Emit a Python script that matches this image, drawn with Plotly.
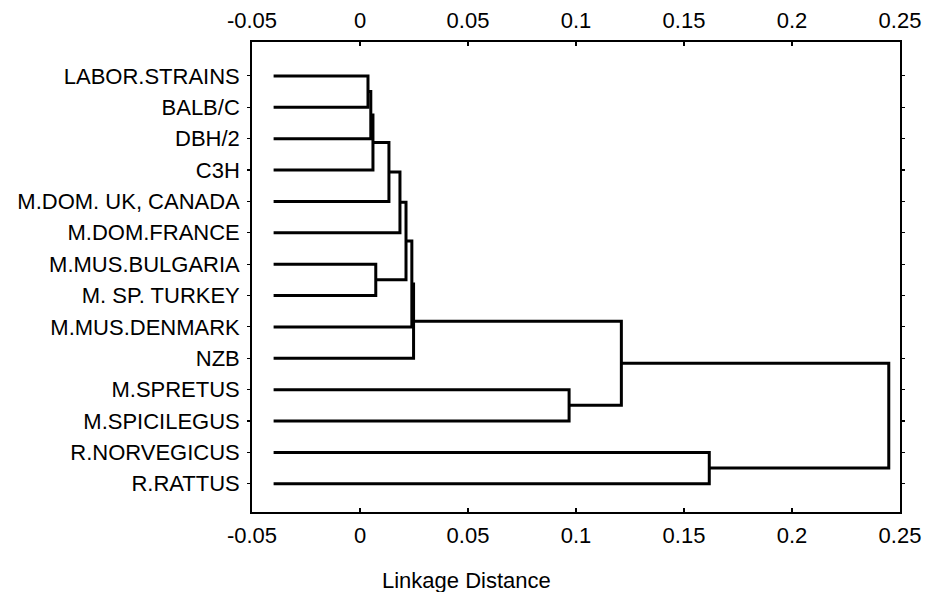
import plotly.graph_objects as go

# ---- data ----
leaves = ["LABOR.STRAINS", "BALB/C", "DBH/2", "C3H", "M.DOM. UK, CANADA",
          "M.DOM.FRANCE", "M.MUS.BULGARIA", "M. SP. TURKEY", "M.MUS.DENMARK",
          "NZB", "M.SPRETUS", "M.SPICILEGUS", "R.NORVEGICUS", "R.RATTUS"]
leaf_start = -0.04
# merges: (child_a, child_b, linkage distance); indices >= len(leaves) refer to earlier merges
merges = [
    (0, 1, 0.0037),
    (14, 2, 0.0050),
    (15, 3, 0.0060),
    (16, 4, 0.0134),
    (17, 5, 0.0185),
    (6, 7, 0.0073),
    (18, 19, 0.0213),
    (20, 8, 0.0240),
    (21, 9, 0.0248),
    (10, 11, 0.0968),
    (22, 23, 0.1210),
    (12, 13, 0.1617),
    (24, 25, 0.2448),
]
x_ticks = [-0.05, 0, 0.05, 0.1, 0.15, 0.2, 0.25]
x_tick_labels = ["-0.05", "0", "0.05", "0.1", "0.15", "0.2", "0.25"]

# ---- build dendrogram segments ----
pos = {i: float(i) for i in range(len(leaves))}
hgt = {i: leaf_start for i in range(len(leaves))}
xs, ys = [], []
for k, (a, b, h) in enumerate(merges):
    idx = len(leaves) + k
    xs += [hgt[a], h, h, hgt[b], None]
    ys += [pos[a], pos[a], pos[b], pos[b], None]
    pos[idx] = (pos[a] + pos[b]) / 2
    hgt[idx] = h

FONT = "Liberation Sans, Arial, sans-serif"
FS = 22

fig = go.Figure()
fig.add_trace(go.Scatter(x=xs, y=ys, mode="lines",
                         line=dict(color="black", width=3),
                         hoverinfo="skip", showlegend=False))
fig.add_trace(go.Scatter(x=[x_ticks[0], x_ticks[-1]], y=[0, 0], xaxis="x2",
                         mode="lines", line=dict(width=0), opacity=0,
                         hoverinfo="skip", showlegend=False))

axis_common = dict(range=[-0.05, 0.25], tickvals=x_ticks, ticktext=x_tick_labels,
                   ticks="inside", ticklen=4, tickwidth=1.5, tickcolor="black",
                   showline=True, linecolor="black", linewidth=1.8,
                   showgrid=False, zeroline=False, automargin=False,
                   tickfont=dict(family=FONT, size=FS, color="black"))

fig.update_layout(
    width=932, height=592,
    margin=dict(l=252, r=32, t=42, b=80, autoexpand=False),
    paper_bgcolor="white", plot_bgcolor="white",
    xaxis=dict(**axis_common, side="bottom", ticklabelstandoff=3),
    xaxis2=dict(**axis_common, side="top", overlaying="x", anchor="y",
                ticklabelstandoff=3),
    yaxis=dict(range=[13.9, -1.08], tickvals=list(range(len(leaves))), ticktext=leaves,
               ticks="outside", ticklen=3, tickwidth=1.2, tickcolor="black",
               showline=True, linecolor="black", linewidth=1.8, mirror="ticks",
               showgrid=False, zeroline=False, ticklabelstandoff=3, automargin=False,
               tickfont=dict(family=FONT, size=FS, color="black")),
    annotations=[dict(text="Linkage Distance", x=(466 - 252) / 648, y=-0.145,
                      xref="paper", yref="paper", showarrow=False,
                      xanchor="center", yanchor="middle",
                      font=dict(family=FONT, size=FS, color="black"))],
)

fig.write_html("out.html", config={"displayModeBar": False, "staticPlot": True},
               post_script="document.body.style.margin='0';"
                           "document.body.style.overflow='hidden';")
